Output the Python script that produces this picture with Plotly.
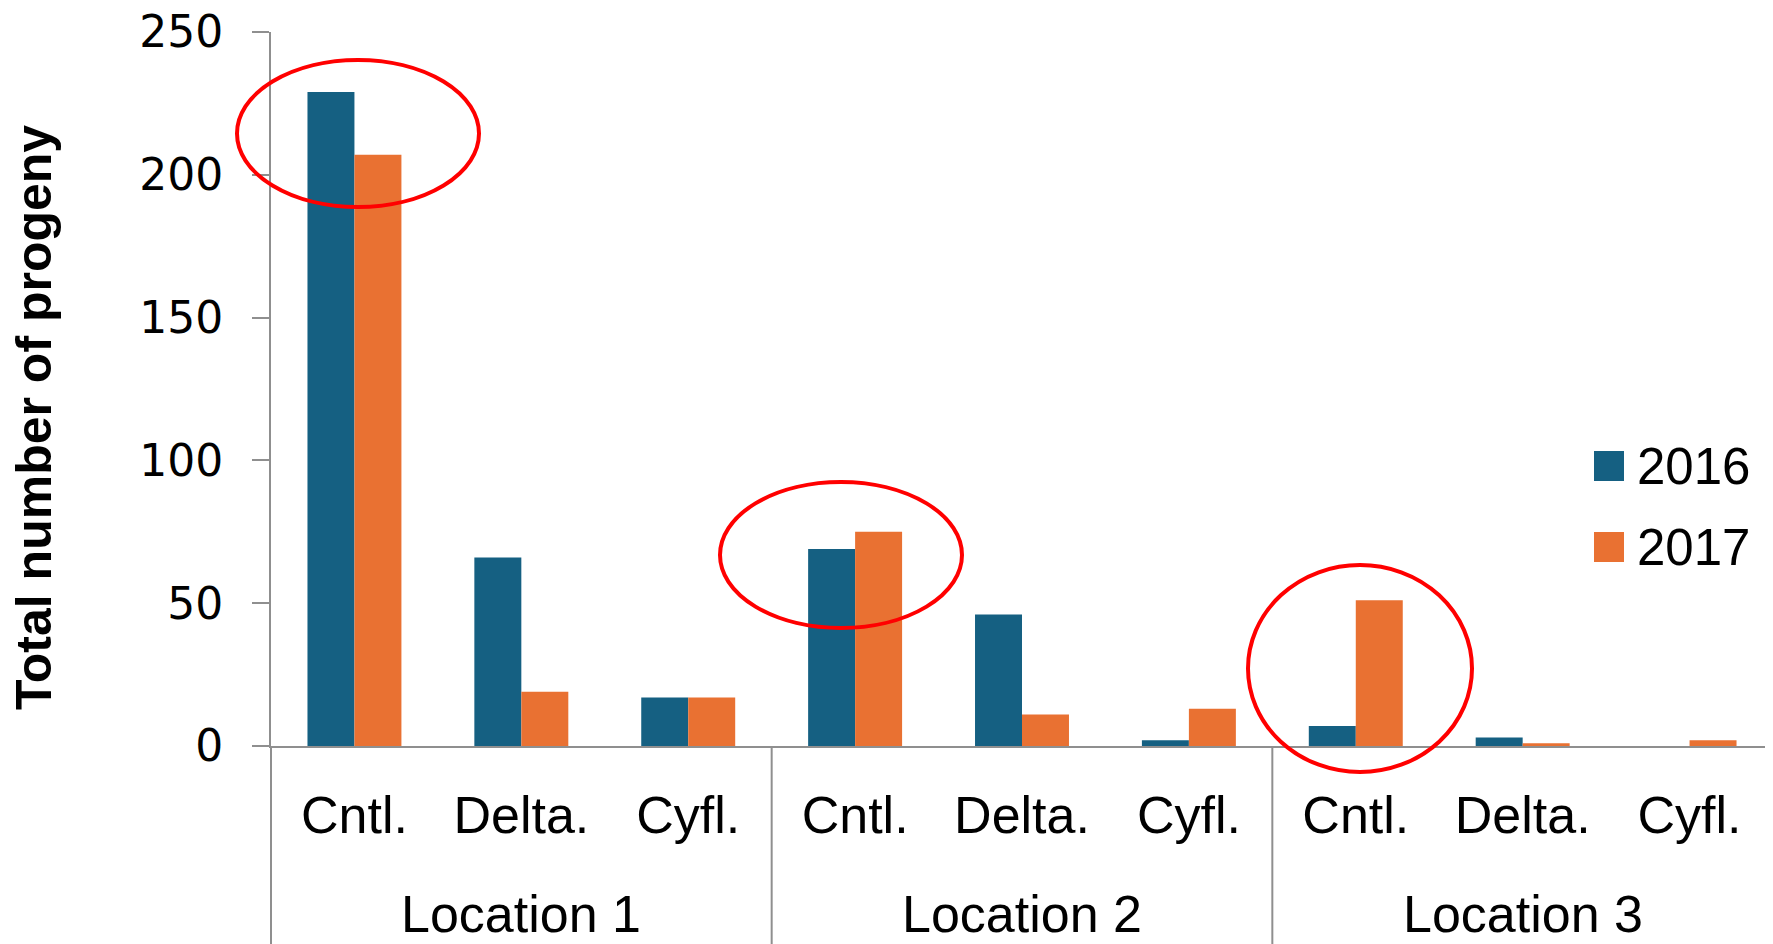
import plotly.graph_objects as go

locations = ["Location 1", "Location 2", "Location 3"]
treatments = ["Cntl.", "Delta.", "Cyfl."]
years = ["2016", "2017"]
progeny_2016 = [229, 66, 17, 69, 46, 2, 7, 3, 0]
progeny_2017 = [207, 19, 17, 75, 11, 13, 51, 1, 2]

colors = {"2016": "#156082", "2017": "#E97132"}
axis_grey = "#8f8f8f"
font = "Liberation Sans, Arial, sans-serif"

# one category per (location, treatment) pair
cats = [f"{loc} | {t}" for loc in locations for t in treatments]
ticktext = [t for loc in locations for t in treatments]

fig = go.Figure()
for year, vals in zip(years, [progeny_2016, progeny_2017]):
    fig.add_trace(go.Bar(x=cats, y=vals, name=year, marker_color=colors[year],
                         marker_line_width=0))

# target plot area on the page: x 271..1773, y 32..746 (px)
# the page body has an 8px margin, so figure coords are page coords - 8
OFF = 8
W, H = 1773, 944
L, T = 271 - OFF, 32 - OFF
R = W - (1773 - OFF)
B = H - (746 - OFF)
pw, ph = W - L - R, H - T - B


def px_x(p):
    return (p - OFF - L) / pw


def px_y(p):
    return (H - B - (p - OFF)) / ph


shapes = []
# y axis line running down to the bottom edge
shapes.append(dict(type="line", xref="paper", yref="paper", x0=0, x1=0, y0=0, y1=px_y(960),
                   line=dict(color=axis_grey, width=2)))
# group dividers
for k in (1, 2):
    xp = k / len(locations)
    shapes.append(dict(type="line", xref="paper", yref="paper", x0=xp, x1=xp, y0=0, y1=px_y(960),
                       line=dict(color=axis_grey, width=2)))

# red highlight ellipses (pixel boxes on the page)
for x0, x1, y0, y1 in [(237, 479, 60, 207), (720, 962, 482, 628), (1248, 1472, 565, 772)]:
    shapes.append(dict(type="circle", xref="paper", yref="paper",
                       x0=px_x(x0), x1=px_x(x1), y0=px_y(y1), y1=px_y(y0),
                       line=dict(color="#ff0000", width=4)))

annotations = []
for i, loc in enumerate(locations):
    annotations.append(dict(x=cats[3 * i + 1], y=px_y(914), xref="x", yref="paper",
                            text=loc, showarrow=False, xanchor="center", yanchor="middle",
                            font=dict(size=52, family=font, color="black")))

# y title
annotations.append(dict(x=px_x(34), y=px_y(418), xref="paper", yref="paper",
                        text="<b>Total number of progeny</b>", textangle=-90, showarrow=False,
                        xanchor="center", yanchor="middle",
                        font=dict(size=50, family=font, color="black")))

# manual legend with large swatches
for year, cy in zip(years, [466, 547]):
    shapes.append(dict(type="rect", xref="paper", yref="paper",
                       x0=px_x(1594), x1=px_x(1624), y0=px_y(cy + 15), y1=px_y(cy - 15),
                       fillcolor=colors[year], line_width=0))
    annotations.append(dict(x=px_x(1635), y=px_y(cy), xref="paper", yref="paper",
                            text=year, showarrow=False, xanchor="left", yanchor="middle",
                            font=dict(size=51, family=font, color="black")))

fig.update_layout(
    width=W, height=H,
    margin=dict(l=L, r=R, t=T, b=B, autoexpand=False),
    barmode="group", bargap=0.437, bargroupgap=0,
    plot_bgcolor="white", paper_bgcolor="white",
    showlegend=False,
    shapes=shapes, annotations=annotations,
    font=dict(family=font, color="black"),
)
fig.update_xaxes(type="category", tickvals=cats, ticktext=ticktext,
                 showline=True, linecolor=axis_grey, linewidth=2, showgrid=False,
                 ticks="", ticklabelstandoff=23, automargin=False,
                 tickfont=dict(size=52, family=font, color="black"))
fig.update_yaxes(range=[0, 250], dtick=50, showline=True, linecolor=axis_grey, linewidth=2,
                 ticks="outside", ticklen=17, tickwidth=2, tickcolor=axis_grey,
                 showgrid=False, zeroline=False, ticklabelstandoff=20,
                 ticklabeloverflow="allow", automargin=False,
                 tickfont=dict(size=44, family="DejaVu Sans, sans-serif", color="black"))

fig.write_html("out.html")
